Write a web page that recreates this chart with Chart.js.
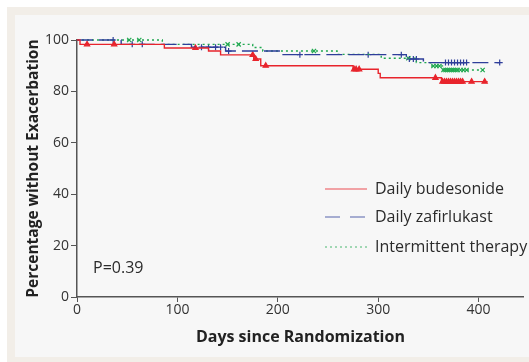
<!DOCTYPE html>
<html>
<head>
<meta charset="utf-8">
<script src="https://cdn.jsdelivr.net/npm/chart.js@4.4.1/dist/chart.umd.min.js"></script>
<style>
html,body{margin:0;padding:0;background:#fff;}
#wrap{position:relative;width:529px;height:362px;}
</style>
</head>
<body>
<div id="wrap"><canvas id="c" width="529" height="362"></canvas></div>
<script>
// ---- Data ----
const seriesNames = ["Daily budesonide", "Daily zafirlukast", "Intermittent therapy"];

// Kaplan-Meier steps: day of event and survival after it
const budesonideDays = [0, 3, 87, 131, 143, 176, 183, 275, 300, 302, 363, 409];
const budesonideSurv = [100, 98.3, 96.9, 95.7, 94.2, 92.6, 90.0, 88.6, 87.0, 85.3, 83.8, 83.8];

const zafirlukastDays = [0, 44, 114, 148, 203, 328, 345, 421];
const zafirlukastSurv = [100, 98.3, 97.2, 95.7, 94.3, 92.6, 91.2, 91.2];

const intermittentDays = [0, 85, 175, 185, 259, 303, 338, 352, 364, 405];
const intermittentSurv = [100, 98.3, 97.1, 95.7, 94.4, 92.9, 91.2, 89.9, 88.3, 88.3];

// Censoring marks (days)
const budesonideCensor = [10, 37, 118, 175, 178, 188, 276, 278, 281, 357, 364, 366, 368, 370, 372, 374, 376, 378, 380, 382, 384, 393, 406];
const zafirlukastCensor = [36, 55, 65, 124, 131, 138, 143, 151, 222, 290, 323, 331, 335, 338, 367, 370, 373, 376, 379, 382, 385, 388, 421];
const intermittentCensor = [52, 62, 150, 161, 236, 330, 355, 358, 361, 365, 367, 369, 371, 373, 375, 377, 379, 382, 385, 388, 404];

const xTicks = [0, 100, 200, 300, 400];
const yTicks = [0, 20, 40, 60, 80, 100];
const pValueText = "P=0.39";

// ---- Styles ----
const colors = ["#e8242c", "#2e3e9a", "#1fa84f"];
const dashes = [[], [16, 6], [2, 3]];
const censorStyles = ["triangle", "cross", "crossRot"];
const FONT = "'Open Sans', 'Noto Sans', sans-serif";

function toPoints(days, surv) { return days.map((d, i) => ({x: d, y: surv[i]})); }
function survAt(days, surv, t) {
  let v = surv[0];
  for (let i = 0; i < days.length; i++) { if (days[i] <= t) v = surv[i]; }
  return v;
}
function censorPoints(cDays, days, surv) { return cDays.map(t => ({x: t, y: survAt(days, surv, t)})); }

const curves = [
  [budesonideDays, budesonideSurv, budesonideCensor],
  [zafirlukastDays, zafirlukastSurv, zafirlukastCensor],
  [intermittentDays, intermittentSurv, intermittentCensor]
];

const datasets = [];
curves.forEach((c, i) => {
  datasets.push({
    label: seriesNames[i],
    data: toPoints(c[0], c[1]),
    borderColor: colors[i],
    borderWidth: 1.4,
    borderDash: dashes[i],
    stepped: true,
    pointRadius: 0,
    fill: false,
    clip: false
  });
});
curves.forEach((c, i) => {
  datasets.push({
    label: seriesNames[i] + " censored",
    data: censorPoints(c[2], c[0], c[1]),
    showLine: false,
    pointStyle: censorStyles[i],
    pointRadius: 3,
    pointBorderWidth: 1.2,
    pointBorderColor: colors[i],
    pointBackgroundColor: colors[i],
    clip: false
  });
});

const bgPlugin = {
  id: 'bg',
  beforeDraw(chart) {
    const ctx = chart.ctx;
    ctx.save();
    ctx.fillStyle = '#ffffff';
    ctx.fillRect(0, 0, 529, 362);
    ctx.fillStyle = '#f2eee8';
    ctx.fillRect(7, 7, 522, 355);
    ctx.fillStyle = '#f7f7f7';
    ctx.fillRect(15, 15, 514, 342);
    ctx.restore();
  }
};

const legendPlugin = {
  id: 'customLegend',
  afterDraw(chart) {
    const ctx = chart.ctx;
    ctx.save();
    ctx.font = "16px " + FONT;
    ctx.textBaseline = 'middle';
    ctx.fillStyle = '#2b2b2b';
    const rowY = [189, 217, 247];
    seriesNames.forEach((name, i) => {
      const y = rowY[i];
      ctx.beginPath();
      ctx.strokeStyle = colors[i];
      ctx.globalAlpha = 0.8;
      ctx.lineWidth = 1;
      ctx.setLineDash(i === 1 ? [15, 10] : i === 2 ? [2, 3] : []);
      ctx.moveTo(325, y);
      ctx.lineTo(367, y);
      ctx.stroke();
      ctx.globalAlpha = 1;
      ctx.setLineDash([]);
      ctx.fillText(name, 375, y);
    });
    ctx.fillText(pValueText, 93, 268);
    ctx.restore();
  }
};

new Chart(document.getElementById('c'), {
  type: 'line',
  data: { datasets },
  plugins: [bgPlugin, legendPlugin],
  options: {
    responsive: false,
    animation: false,
    layout: { padding: { left: 15, top: 40, right: 0, bottom: 5 } },
    plugins: { legend: { display: false }, tooltip: { enabled: false } },
    scales: {
      x: {
        type: 'linear',
        min: 0, max: 445,
        afterBuildTicks(scale) { scale.ticks = xTicks.map(v => ({value: v})); },
        afterFit(scale) { scale.height = 60; scale.paddingLeft = 0; scale.paddingRight = 0; },
        grid: { drawOnChartArea: false, drawTicks: true, tickLength: 5, tickColor: '#555', tickWidth: 1 },
        border: { display: true, color: '#555', width: 1.5 },
        ticks: { color: '#333', font: { family: FONT, size: 14 }, padding: 0, maxRotation: 0 },
        title: { display: true, text: 'Days since Randomization', color: '#222',
                 font: { family: FONT, size: 16, weight: 'bold' }, padding: { top: 0, bottom: 10 } }
      },
      y: {
        type: 'linear',
        min: 0, max: 100,
        afterBuildTicks(scale) { scale.ticks = yTicks.map(v => ({value: v})); },
        afterFit(scale) { scale.width = 62; scale.paddingTop = 0; scale.paddingBottom = 0; },
        grid: { drawOnChartArea: false, drawTicks: true, tickLength: 6, tickColor: '#555', tickWidth: 1 },
        border: { display: true, color: '#555', width: 1.5 },
        ticks: { color: '#333', font: { family: FONT, size: 14 }, padding: 2 },
        title: { display: true, text: 'Percentage without Exacerbation', color: '#222',
                 font: { family: FONT, size: 15.5, weight: 'bold' }, padding: { top: 9, bottom: 0 } }
      }
    }
  }
});
</script>
</body>
</html>
